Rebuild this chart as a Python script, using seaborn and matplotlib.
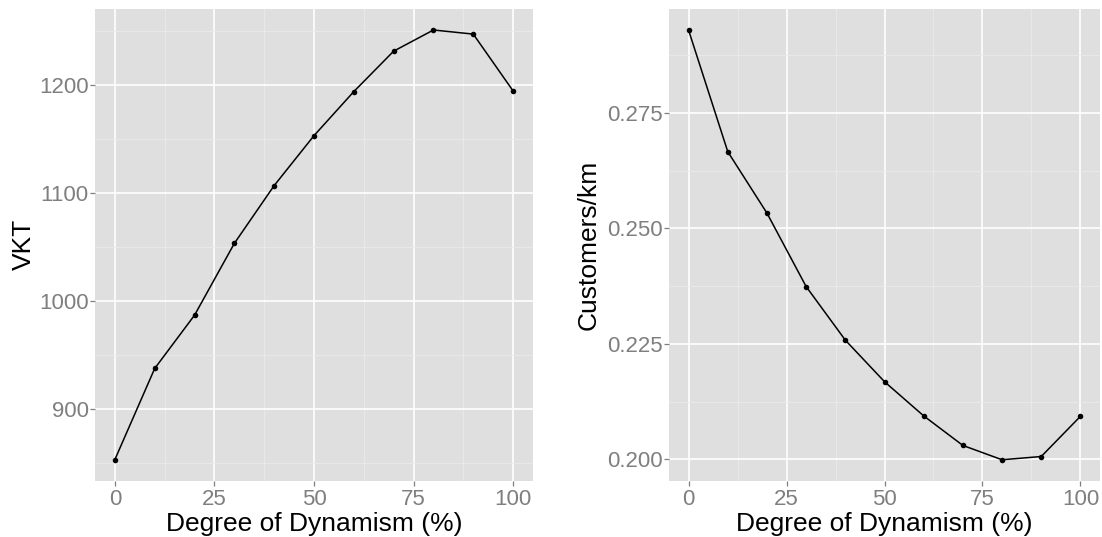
import numpy as np
import pandas as pd
import matplotlib
matplotlib.use("Agg")
import matplotlib.pyplot as plt
import seaborn as sns
from matplotlib.ticker import FixedLocator

dynamism = [0, 10, 20, 30, 40, 50, 60, 70, 80, 90, 100]
vkt = [853.4, 937.7, 987.0, 1053.5, 1107.0, 1153.2, 1194.0, 1231.4, 1251.0, 1247.2, 1194.6]
cust_per_km = [0.2929, 0.2666, 0.2533, 0.2374, 0.2258, 0.2168, 0.2094, 0.2030, 0.1999, 0.2006, 0.2093]

x_ticks = [0, 25, 50, 75, 100]
vkt_ticks = [900, 1000, 1100, 1200]
cpk_ticks = [0.200, 0.225, 0.250, 0.275]
cpk_labels = ["0.200", "0.225", "0.250", "0.275"]

sns.set_theme(style="darkgrid")
plt.rcParams['font.family'] = ['Liberation Sans', 'DejaVu Sans']

df = pd.DataFrame({"dyn": dynamism, "vkt": vkt, "cpk": cust_per_km})

W, H = 1102, 537
fig = plt.figure(figsize=(W / 100, H / 100), dpi=100)
top, bottom = 8.5, 481
ax1 = fig.add_axes([95 / W, 1 - bottom / H, (533 - 95) / W, (bottom - top) / H])
ax2 = fig.add_axes([669 / W, 1 - bottom / H, (1100 - 669) / W, (bottom - top) / H])

bg = "#DFDFDF"
tick_col = "#7F7F7F"

def style(ax, yticks, ylabels, yminor):
    ax.set_facecolor(bg)
    for s in ax.spines.values():
        s.set_visible(False)
    ax.set_xlim(-5, 105)
    ax.xaxis.set_major_locator(FixedLocator(x_ticks))
    ax.xaxis.set_minor_locator(FixedLocator([12.5, 37.5, 62.5, 87.5]))
    ax.yaxis.set_major_locator(FixedLocator(yticks))
    ax.set_yticklabels(ylabels)
    ax.yaxis.set_minor_locator(FixedLocator(yminor))
    ax.grid(which="major", color="white", linewidth=1.2)
    ax.grid(which="minor", color="#EAEAEA", linewidth=0.6)
    ax.set_axisbelow(True)
    ax.tick_params(axis="both", which="major", length=3.5, width=0.9, color=tick_col,
                   labelcolor=tick_col, labelsize=16, direction="out")
    ax.tick_params(axis="x", which="major", pad=2.5, bottom=True)
    ax.tick_params(axis="y", which="major", pad=1.0, left=True)
    ax.tick_params(axis="both", which="minor", length=0)

sns.lineplot(data=df, x="dyn", y="vkt", ax=ax1, color="black", linewidth=1.1,
             marker="o", markersize=4, markeredgewidth=0, markerfacecolor="black")
sns.lineplot(data=df, x="dyn", y="cpk", ax=ax2, color="black", linewidth=1.1,
             marker="o", markersize=4, markeredgewidth=0, markerfacecolor="black")

ax1.set_ylim(833.5, 1270.9)
ax2.set_ylim(0.1953, 0.2976)

style(ax1, vkt_ticks, [str(v) for v in vkt_ticks], [850, 950, 1050, 1150, 1250])
style(ax2, cpk_ticks, cpk_labels, [0.2125, 0.2375, 0.2625, 0.2875])

ax1.set_xlabel("Degree of Dynamism (%)", fontsize=19, color="black", labelpad=1)
ax1.set_ylabel("VKT", fontsize=19, color="black", labelpad=2)
ax2.set_xlabel("Degree of Dynamism (%)", fontsize=19, color="black", labelpad=1)
ax2.set_ylabel("Customers/km", fontsize=19, color="black", labelpad=5)

fig.savefig("out.png", dpi=100, facecolor="white")
